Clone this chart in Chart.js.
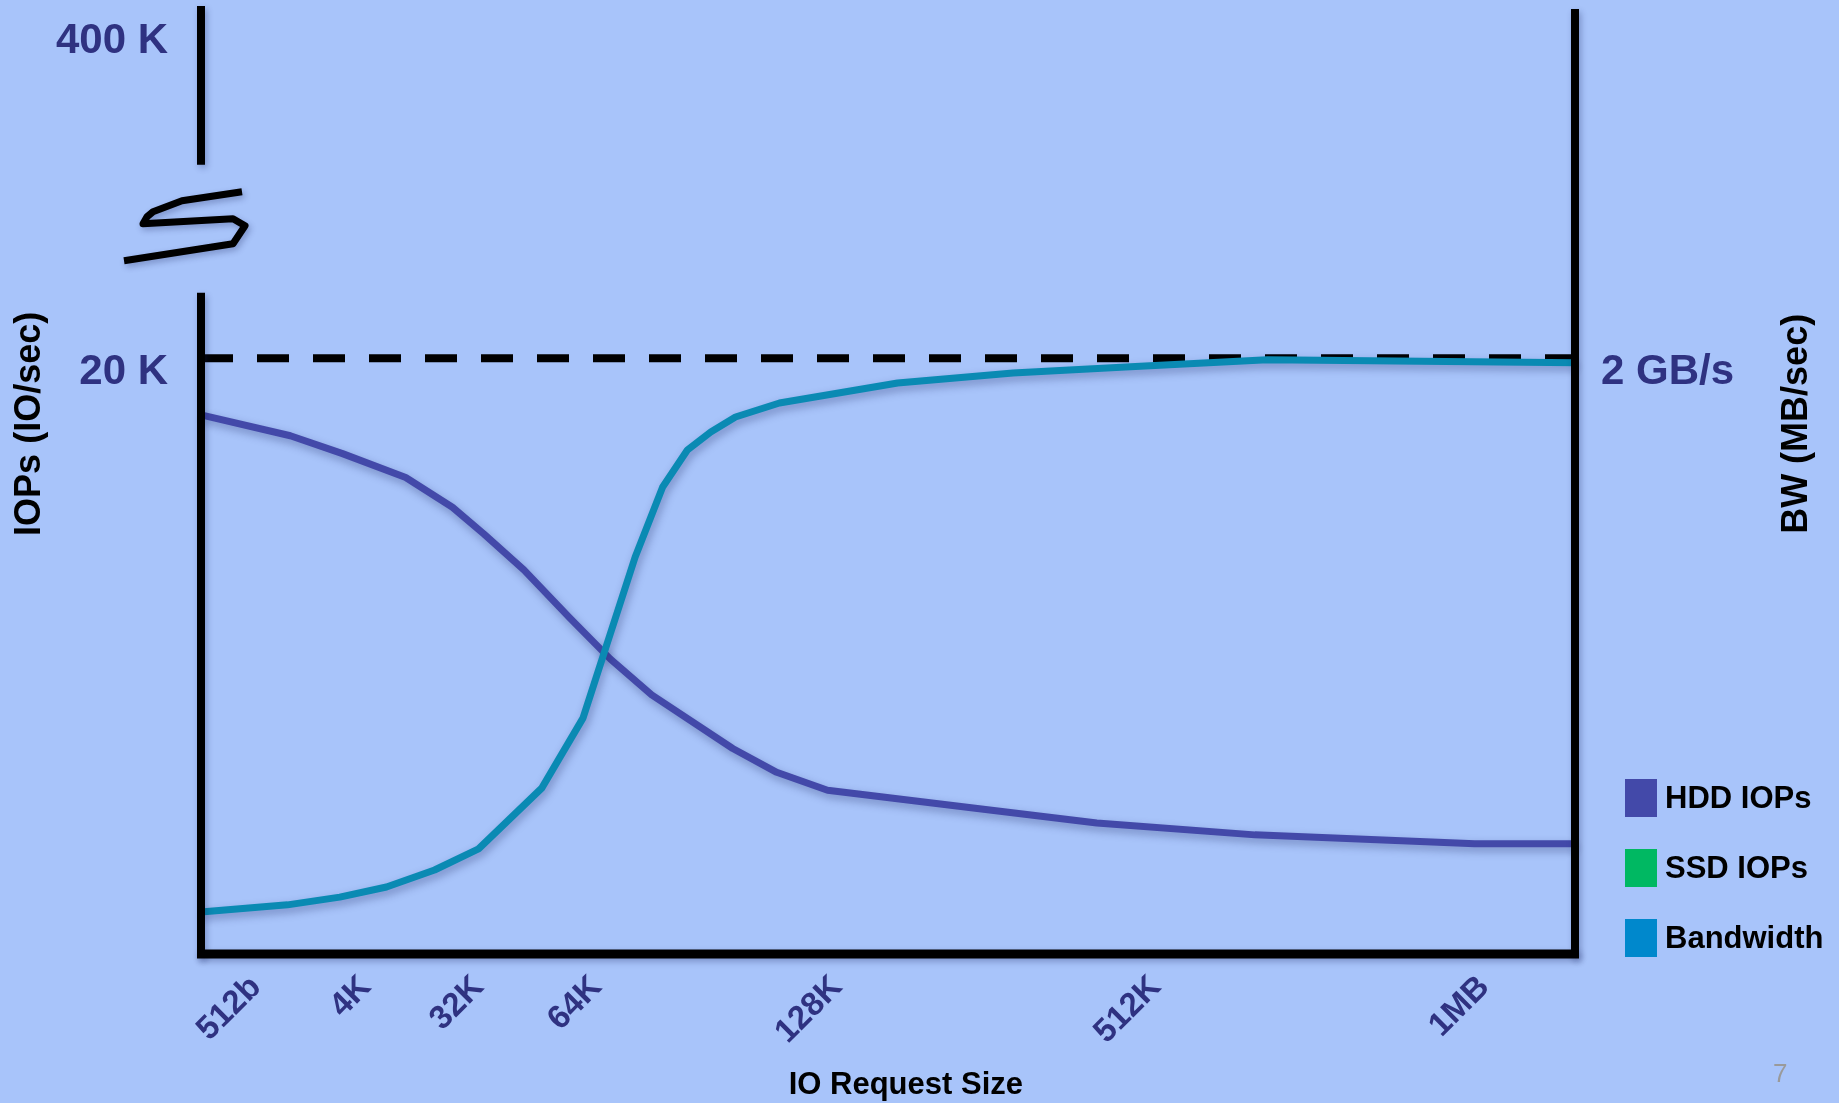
<!DOCTYPE html>
<html>
<head>
<meta charset="utf-8">
<title>IOPs and bandwidth by IO request size</title>
<script src="https://cdn.jsdelivr.net/npm/chart.js@4.4.1/dist/chart.umd.min.js"></script>
<style>
  html, body { margin: 0; padding: 0; background: #a8c4fa; }
  #wrap { position: relative; width: 1839px; height: 1103px; overflow: hidden; background: #a8c4fa; }
  #chart { display: block; }
  .legend { position: absolute; left: 1625px; top: 779px; font: bold 31px "Liberation Sans", Arial, sans-serif; color: #000; }
  .legend .row { display: flex; align-items: center; height: 38px; margin-bottom: 32px; }
  .legend .box { width: 32px; height: 38px; margin-right: 8px; }
  .page-num { position: absolute; left: 1773px; top: 1058px; font: 26px "Liberation Sans", Arial, sans-serif; color: #9a9a9a; }
</style>
</head>
<body>
<div id="wrap">
  <canvas id="chart" width="1839" height="1103"></canvas>
  <div class="legend" id="legend"></div>
  <div class="page-num">7</div>
</div>
<script>
// request sizes, placed on a 0-100 scale along the x axis
const sizeLabels = ["512b", "4K", "32K", "64K", "128K", "512K", "1MB"];
const sizePos = [4.0, 12.0, 20.2, 28.8, 46.3, 69.5, 93.4];

// HDD IOPs, thousands of IO/sec
const hddX = [0, 6.5, 10.3, 14.9, 18.3, 20.6, 23.5, 26.8, 29.8, 32.8, 38.7, 41.9, 45.6, 56.2, 65.2, 76.7, 92.7, 100];
const hddIops = [18.1, 17.4, 16.8, 16.0, 15.0, 14.1, 12.9, 11.3, 9.9, 8.7, 6.9, 6.1, 5.5, 4.9, 4.4, 4.0, 3.7, 3.7];

// bandwidth, MB/sec
const bwX = [0, 6.3, 10.1, 13.5, 17.0, 20.2, 24.8, 27.8, 31.6, 33.6, 35.4, 37.1, 38.9, 42.1, 50.7, 59.1, 67.3, 77.6, 100];
const bwMBs = [141, 165, 191, 225, 282, 353, 557, 792, 1333, 1568, 1692, 1753, 1803, 1850, 1917, 1951, 1971, 1995, 1985];

// 20 K IOPs / 2 GB/s ceiling
const ceilX = [0, 100];
const ceilIops = [20, 20];

const iopsTicks = [20, 31.1];
const iopsTickLabels = ["20 K", "400 K"];
const bwTicks = [2000];
const bwTickLabels = ["2 GB/s"];
const iopsBreak = [22.2, 26.5];   // gap in the IOPs axis

const legendNames = ["HDD IOPs", "SSD IOPs", "Bandwidth"];
const legendColors = ["#4349a9", "#00b862", "#0088cc"];

const FONT = '"Liberation Sans", Arial, Helvetica, sans-serif';
const NAVY = "#2f3281";

const pts = (xs, ys) => xs.map((x, i) => ({ x: x, y: ys[i] }));

// keep tick labels from shrinking the plot area
const noPad = s => { s.paddingTop = 0; s.paddingBottom = 0; s.paddingLeft = 0; s.paddingRight = 0; };

// legend
const legendEl = document.getElementById("legend");
legendNames.forEach((name, i) => {
  const row = document.createElement("div");
  row.className = "row";
  row.innerHTML = '<span class="box" style="background:' + legendColors[i] + '"></span>' + name;
  legendEl.appendChild(row);
});

const lineShadow = {
  id: "lineShadow",
  beforeDatasetDraw(chart, args) {
    const ctx = chart.ctx;
    ctx.save();
    if (args.meta._dataset.shadow) {
      ctx.shadowColor = "rgba(20, 30, 90, 0.35)";
      ctx.shadowBlur = 8;
      ctx.shadowOffsetX = 2;
      ctx.shadowOffsetY = 4;
    }
  },
  afterDatasetDraw(chart) {
    chart.ctx.restore();
  }
};

// axis lines with the broken IOPs axis, plus axis titles
const frame = {
  id: "frame",
  afterDatasetsDraw(chart) {
    const { ctx, chartArea: a, scales } = chart;
    const y = scales.y;
    const hi = y.getPixelForValue(iopsBreak[1]);
    const lo = y.getPixelForValue(iopsBreak[0]);
    ctx.save();
    ctx.strokeStyle = "#000";
    ctx.lineCap = "butt";
    ctx.shadowColor = "rgba(20, 30, 90, 0.3)";
    ctx.shadowBlur = 6;
    ctx.shadowOffsetX = 2;
    ctx.shadowOffsetY = 3;
    ctx.lineWidth = 8;
    ctx.beginPath();
    ctx.moveTo(a.left, a.top);
    ctx.lineTo(a.left, hi);
    ctx.moveTo(a.left, lo);
    ctx.lineTo(a.left, a.bottom + 4);
    ctx.moveTo(a.right, a.top + 3);
    ctx.lineTo(a.right, a.bottom + 4);
    ctx.stroke();
    ctx.lineWidth = 9;
    ctx.beginPath();
    ctx.moveTo(a.left - 4, a.bottom);
    ctx.lineTo(a.right + 4, a.bottom);
    ctx.stroke();

    // break mark
    const cx = a.left, cy = (hi + lo) / 2;
    const mark = [[-77, 32], [32, 15], [44, -3], [32, -10], [-58, -5], [-54, -12], [-48, -17], [-19, -28], [41, -37]];
    ctx.lineWidth = 7;
    ctx.lineJoin = "round";
    ctx.beginPath();
    mark.forEach(([dx, dy], i) => i ? ctx.lineTo(cx + dx, cy + dy) : ctx.moveTo(cx + dx, cy + dy));
    ctx.stroke();
    ctx.restore();

    // titles
    ctx.save();
    ctx.fillStyle = "#000";
    ctx.textAlign = "center";
    ctx.textBaseline = "middle";
    ctx.font = "bold 36px " + FONT;
    const ty = y.getPixelForValue(17.8);
    ctx.save();
    ctx.translate(y.left + 30, ty);
    ctx.rotate(-Math.PI / 2);
    ctx.fillText("IOPs (IO/sec)", 0, 0);
    ctx.restore();
    ctx.save();
    ctx.translate(scales.y2.right - 42, ty);
    ctx.rotate(-Math.PI / 2);
    ctx.fillText("BW (MB/sec)", 0, 0);
    ctx.restore();
    ctx.font = "bold 31px " + FONT;
    ctx.fillText("IO Request Size", scales.x.getPixelForValue(51.3), scales.x.bottom - 18);
    ctx.restore();
  }
};

new Chart(document.getElementById("chart"), {
  type: "line",
  data: {
    datasets: [
      {
        label: "Bandwidth",
        data: pts(bwX, bwMBs),
        yAxisID: "y2",
        borderColor: "#0a8ab3",
        backgroundColor: "#0088cc",
        borderWidth: 7,
        order: 0,
        shadow: true
      },
      {
        label: "HDD IOPs",
        data: pts(hddX, hddIops),
        yAxisID: "y",
        borderColor: "#4349a9",
        backgroundColor: "#4349a9",
        borderWidth: 7,
        order: 1,
        shadow: true
      },
      {
        label: "ceiling",
        data: pts(ceilX, ceilIops),
        yAxisID: "y",
        borderColor: "#000",
        borderWidth: 8,
        borderDash: [32, 24],
        borderCapStyle: "butt",
        order: 2
      }
    ]
  },
  options: {
    responsive: false,
    animation: false,
    layout: { padding: { top: 6, left: 0, right: 0, bottom: 0 } },
    elements: {
      point: { radius: 0, hoverRadius: 0 },
      line: { tension: 0, borderJoinStyle: "round", fill: false }
    },
    datasets: { line: { clip: 10 } },
    plugins: { legend: { display: false }, tooltip: { enabled: false } },
    scales: {
      x: {
        type: "linear",
        min: 0,
        max: 100,
        grid: { display: false, drawTicks: false },
        border: { display: false },
        afterBuildTicks: s => { s.ticks = sizePos.map(v => ({ value: v })); },
        afterFit: s => { s.height = 149; noPad(s); },
        ticks: {
          autoSkip: false,
          minRotation: 45,
          maxRotation: 45,
          padding: 14,
          color: NAVY,
          font: { family: FONT, size: 33, weight: "bold" },
          callback: (v, i) => sizeLabels[i]
        }
      },
      y: {
        type: "linear",
        position: "left",
        min: 0,
        max: 31.83,
        grid: { display: false, drawTicks: false },
        border: { display: false },
        afterBuildTicks: s => { s.ticks = iopsTicks.map(v => ({ value: v })); },
        afterFit: s => { s.width = 201; noPad(s); },
        ticks: {
          padding: 33,
          labelOffset: 14,
          color: NAVY,
          font: { family: FONT, size: 42, weight: "bold" },
          callback: (v, i) => iopsTickLabels[i]
        }
      },
      y2: {
        type: "linear",
        position: "right",
        min: 0,
        max: 3183,
        grid: { display: false, drawTicks: false },
        border: { display: false },
        afterBuildTicks: s => { s.ticks = bwTicks.map(v => ({ value: v })); },
        afterFit: s => { s.width = 264; noPad(s); },
        ticks: {
          padding: 26,
          labelOffset: 14,
          color: NAVY,
          font: { family: FONT, size: 42, weight: "bold" },
          callback: (v, i) => bwTickLabels[i]
        }
      }
    }
  },
  plugins: [lineShadow, frame]
});
</script>
</body>
</html>
